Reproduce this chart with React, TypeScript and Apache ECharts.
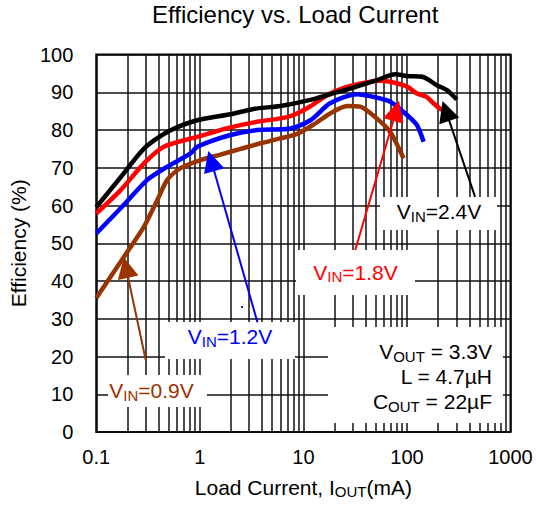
import { useEffect, useRef } from "react";
import * as echarts from "echarts";

const FONT = "'Liberation Sans', Arial, sans-serif";
const TITLE = "Efficiency vs. Load Current";
const X_LABEL_NAME = "{m|Load Current, I}{s|OUT}{m|(mA)}";
const Y_LABEL_NAME = "Efficiency (%)";

// minor (2..9 per decade) vertical grid positions, mA
const X_MINOR = [
  0.2, 0.3, 0.4, 0.5, 0.6, 0.7, 0.8, 0.9,
  2, 3, 4, 5, 6, 7, 8, 9,
  20, 30, 40, 50, 60, 70, 80, 90,
  200, 300, 400, 500, 600, 700, 800, 900,
];

// VIN = 2.4 V (black)
const VIN24_X = [0.1, 0.172, 0.289, 0.485, 0.945, 1.98, 3.3, 6.0, 11.7, 18.1, 28.4, 51, 77, 100, 145, 194, 243, 302];
const VIN24_Y = [59.6, 67.5, 75.1, 79.5, 82.6, 84.2, 85.6, 86.4, 88.0, 89.5, 91.0, 93.2, 94.8, 94.3, 94.0, 91.9, 90.6, 88.1];

// VIN = 1.8 V (red)
const VIN18_X = [0.1, 0.172, 0.289, 0.45, 0.945, 1.98, 3.58, 6.0, 8.05, 11.7, 18.1, 30.5, 55, 69, 100, 125, 155, 180, 217];
const VIN18_Y = [57.9, 64.1, 71.2, 75.6, 78.2, 80.7, 82.2, 83.1, 84.0, 86.3, 89.7, 91.9, 93.1, 92.8, 91.5, 89.7, 88.8, 87.1, 85.3];

// VIN = 1.2 V (blue)
const VIN12_X = [0.1, 0.185, 0.311, 0.485, 0.815, 0.945, 1.98, 3.58, 7.5, 11.7, 18.1, 33, 47.6, 69, 100, 125, 145];
const VIN12_Y = [52.6, 60.2, 66.8, 70.3, 73.8, 75.6, 78.7, 80.0, 80.4, 82.6, 87.1, 89.5, 88.8, 87.5, 84.0, 81.3, 76.9];

// VIN = 0.9 V (brown)
const VIN09_X = [0.1, 0.185, 0.289, 0.389, 0.485, 0.65, 1.0, 1.58, 2.47, 3.85, 6.0, 8.7, 12.6, 18.1, 26.4, 35.4, 51, 69, 92.7];
const VIN09_Y = [35.5, 46.4, 54.4, 61.5, 66.8, 69.9, 72.0, 73.5, 75.0, 76.5, 77.8, 79.0, 81.5, 84.4, 86.4, 86.2, 83.1, 79.5, 72.5];

// arrows: [tail mA, tail %, head mA, head %]
const ARROW_24 = [455, 62.3, 237.7, 85.1];
const ARROW_18 = [31.7, 48.2, 78.7, 85.1];
const ARROW_12 = [3.6, 29.1, 1.29, 71.8];
const ARROW_09 = [0.3, 19.1, 0.1936, 43.6];

const BLACK = "#000000";
const RED = "#ff0000";
const BLUE = "#0000ff";
const BROWN = "#993300";

function zip(xs: number[], ys: number[]) {
  return xs.map((x, i) => [x, ys[i]]);
}

function arrow(a: number[], color: string) {
  return {
    silent: true,
    z: 60,
    symbol: ["none", "triangle"],
    symbolSize: 21,
    label: { show: false },
    lineStyle: { type: "solid", width: 2, color },
    emphasis: { disabled: true },
    data: [[{ coord: [a[0], a[1]] }, { coord: [a[2], a[3]] }]],
  };
}

function curve(name: string, xs: number[], ys: number[], color: string, a: number[]) {
  return {
    name,
    type: "line",
    z: 40,
    data: zip(xs, ys),
    showSymbol: false,
    smooth: 0.25,
    lineStyle: { color, width: 4.5 },
    itemStyle: { color },
    markLine: arrow(a, color),
  };
}

const richFill = (color: string) => ({
  m: { fontSize: 21, lineHeight: 24, fill: color, fontFamily: FONT },
  s: { fontSize: 15, lineHeight: 8, verticalAlign: "bottom", fill: color, fontFamily: FONT },
});

const richColor = (color: string) => ({
  m: { fontSize: 21, lineHeight: 24, color, fontFamily: FONT },
  s: { fontSize: 15, lineHeight: 8, verticalAlign: "bottom", color, fontFamily: FONT },
});

function whiteRect(r: number[]) {
  return {
    type: "rect",
    z: 30,
    silent: true,
    shape: { x: r[0], y: r[1], width: r[2], height: r[3] },
    style: { fill: "#ffffff", stroke: "none" },
  };
}

function richText(tx: number, ty: number, text: string, color: string, align: string) {
  return {
    type: "text",
    z: 31,
    silent: true,
    style: {
      x: tx,
      y: ty,
      text,
      align,
      verticalAlign: "middle",
      fill: color,
      rich: richFill(color),
    },
  };
}

export default function App() {
  const ref = useRef<HTMLDivElement>(null);

  useEffect(() => {
    if (!ref.current) return;
    const chart = echarts.init(ref.current, undefined, { renderer: "svg" });

    const graphics = [
      whiteRect([380, 197, 117, 33]),
      richText(439, 211.5, "{m|V}{s|IN}{m|=2.4V}", BLACK, "center"),
      whiteRect([296, 250, 119, 45]),
      richText(355.5, 272, "{m|V}{s|IN}{m|=1.8V}", RED, "center"),
      whiteRect([165, 322, 130, 37]),
      richText(230, 336.5, "{m|V}{s|IN}{m|=1.2V}", BLUE, "center"),
      whiteRect([108, 375, 99, 32]),
      richText(151.5, 390.5, "{m|V}{s|IN}{m|=0.9V}", BROWN, "center"),
      whiteRect([328, 327, 175, 96]),
      richText(492, 351.5, "{m|V}{s|OUT}{m| = 3.3V}", BLACK, "right"),
      richText(492, 376.5, "{m|L = 4.7µH}", BLACK, "right"),
      richText(492, 401.5, "{m|C}{s|OUT}{m| = 22µF}", BLACK, "right"),
      {
        type: "circle",
        z: 32,
        silent: true,
        shape: { cx: 242, cy: 307, r: 1 },
        style: { fill: "#000" },
      },
    ];

    const gridLine = { color: "#111", width: 1.5, type: "solid" };

    chart.setOption({
      animation: false,
      backgroundColor: "#ffffff",
      textStyle: { fontFamily: FONT },
      title: {
        text: TITLE,
        left: 152,
        top: 2,
        padding: 0,
        textStyle: { fontSize: 24, fontWeight: "normal", color: "#000", fontFamily: FONT },
      },
      grid: {
        left: 95.5,
        right: 25.5,
        top: 54.6,
        bottom: 76,
        show: true,
        borderColor: "#000",
        borderWidth: 2,
        backgroundColor: "transparent",
      },
      xAxis: {
        type: "log",
        logBase: 10,
        min: 0.1,
        max: 1000,
        axisLine: { show: false },
        axisTick: { show: false },
        splitLine: { show: true, lineStyle: gridLine },
        axisLabel: {
          fontSize: 20,
          color: "#000",
          margin: 15,
          fontFamily: FONT,
          formatter: (v: number) => String(v),
        },
        name: X_LABEL_NAME,
        nameLocation: "middle",
        nameGap: 43,
        nameTextStyle: { rich: richColor("#000") },
      },
      yAxis: {
        type: "value",
        min: 0,
        max: 100,
        interval: 10,
        axisLine: { show: false },
        axisTick: { show: false },
        splitLine: { show: true, lineStyle: gridLine },
        axisLabel: { fontSize: 20, color: "#000", margin: 23, fontFamily: FONT },
        name: Y_LABEL_NAME,
        nameLocation: "middle",
        nameGap: 62,
        nameTextStyle: { fontSize: 21, color: "#000", fontFamily: FONT },
      },
      graphic: { elements: graphics },
      series: [
        {
          name: "minor-grid",
          type: "line",
          z: 1,
          data: [],
          silent: true,
          markLine: {
            silent: true,
            z: 1,
            symbol: ["none", "none"],
            label: { show: false },
            lineStyle: gridLine,
            emphasis: { disabled: true },
            data: X_MINOR.map((v) => ({ xAxis: v })),
          },
        },
        curve("VIN=0.9V", VIN09_X, VIN09_Y, BROWN, ARROW_09),
        curve("VIN=1.2V", VIN12_X, VIN12_Y, BLUE, ARROW_12),
        curve("VIN=1.8V", VIN18_X, VIN18_Y, RED, ARROW_18),
        curve("VIN=2.4V", VIN24_X, VIN24_Y, BLACK, ARROW_24),
      ],
    });

    return () => chart.dispose();
  }, []);

  return (
    <div
      ref={ref}
      style={{ position: "absolute", left: 0, top: 0, width: 536, height: 508 }}
    />
  );
}
